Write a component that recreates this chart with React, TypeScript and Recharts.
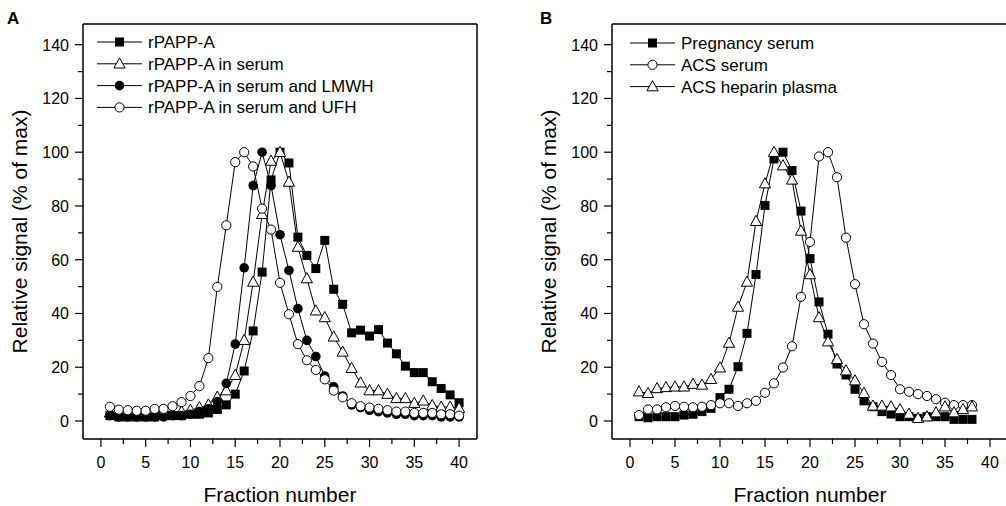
import { Line, LineChart, ReferenceLine, XAxis, YAxis } from 'recharts';

// fraction numbers
const fractionsA = [1, 2, 3, 4, 5, 6, 7, 8, 9, 10, 11, 12, 13, 14, 15, 16, 17, 18, 19, 20, 21, 22, 23, 24, 25, 26, 27, 28, 29, 30, 31, 32, 33, 34, 35, 36, 37, 38, 39, 40];
const fractionsB = [1, 2, 3, 4, 5, 6, 7, 8, 9, 10, 11, 12, 13, 14, 15, 16, 17, 18, 19, 20, 21, 22, 23, 24, 25, 26, 27, 28, 29, 30, 31, 32, 33, 34, 35, 36, 37, 38];

// panel A
const rpappA = [2, 1.5, 1.5, 1.5, 1.5, 1.5, 2, 2, 2, 2.5, 2.5, 3, 4.3, 6, 10, 18.6, 33.5, 55.4, 89.7, 100, 96, 68.4, 61.6, 56.7, 67.2, 49, 43.4, 32.8, 33.8, 31.6, 34, 29, 25, 20.4, 18, 18, 14.6, 12.1, 9.7, 6.8];
const rpappSerum = [3, 2.5, 2.5, 2.5, 2.5, 3, 3, 3, 3.5, 4, 5, 6, 8.9, 11.3, 17, 30, 51.7, 76.9, 96.7, 100, 88.9, 64.7, 53, 41, 38.5, 31.3, 25.7, 19.6, 14.2, 11.3, 11.3, 10, 8.4, 8.4, 6.6, 7.5, 5.8, 5.2, 5.2, 4.7];
const rpappLmwh = [2, 1.5, 1.5, 1.5, 1.5, 1.5, 1.5, 2, 2, 2.5, 3.5, 4.5, 7.2, 14, 28.6, 57, 87.6, 100, 87.6, 69.3, 56, 41.8, 30, 24, 16.7, 12.7, 9.3, 6, 5, 4, 3.5, 3, 2.5, 2.5, 2, 2, 2, 1.5, 1.5, 1.5];
const rpappUfh = [5.3, 4.2, 4, 3.8, 3.8, 4.5, 4.5, 5.5, 7, 9.3, 13, 23.4, 49.9, 72.8, 96.3, 100, 94.7, 79, 71.2, 51.4, 39.7, 28.6, 22.6, 19, 15.5, 11.3, 8.8, 6.6, 5.5, 5, 4.5, 4, 3.5, 3.5, 3, 3, 3, 2.5, 2.5, 2];

// panel B
const pregnancySerum = [1.6, 1.2, 1.6, 1.6, 1.6, 2.2, 2.5, 3.5, 4.7, 8.7, 11.8, 20.2, 32.6, 54.5, 80.2, 97.5, 100, 93.2, 78.1, 60.4, 44.3, 32.3, 21.2, 17.1, 11.8, 7.5, 5.3, 3.5, 2.6, 1.6, 1.6, 1, 1.6, 1.6, 1.6, 0.6, 0.6, 0.6];
const acsSerum = [2.2, 4.3, 4.3, 5.1, 5.6, 5.3, 5.1, 5.3, 5.9, 6.6, 6.6, 5.6, 6.6, 7.5, 10.5, 14, 19.9, 27.8, 46.2, 66.6, 98.4, 100, 90.7, 68.2, 50.9, 36, 28.8, 22, 17.1, 11.8, 10.9, 10, 9.3, 8.1, 6.8, 5.9, 5.9, 5.9];
const acsHeparin = [10.9, 10.3, 12.1, 12.5, 12.7, 12.7, 13.7, 13.4, 15.5, 19.8, 29, 42.4, 51.7, 74.3, 88.3, 100, 95, 89.7, 70.7, 54.5, 38.5, 29.5, 22.9, 18.7, 15, 10.3, 5.6, 5.6, 5.3, 4.3, 2.6, 1, 1.6, 3.1, 5.3, 3.1, 4.3, 5.3];

const xTicks = [0, 2.5, 5, 7.5, 10, 12.5, 15, 17.5, 20, 22.5, 25, 27.5, 30, 32.5, 35, 37.5, 40];
const yTicks = [0, 10, 20, 30, 40, 50, 60, 70, 80, 90, 100, 110, 120, 130, 140];
const X_DOMAIN: [number, number] = [-2, 42];
const Y_DOMAIN: [number, number] = [-6.7, 147.7];

const dataA = fractionsA.map((f, i) => ({
  fraction: f,
  rpappA: rpappA[i],
  serum: rpappSerum[i],
  lmwh: rpappLmwh[i],
  ufh: rpappUfh[i],
}));

const dataB = fractionsB.map((f, i) => ({
  fraction: f,
  pregnancy: pregnancySerum[i],
  acs: acsSerum[i],
  heparin: acsHeparin[i],
}));

type Shape = 'square' | 'triangle' | 'dot' | 'circle';
type Series = { key: string; name: string; shape: Shape };

const seriesA: Series[] = [
  { key: 'rpappA', name: 'rPAPP-A', shape: 'square' },
  { key: 'serum', name: 'rPAPP-A in serum', shape: 'triangle' },
  { key: 'lmwh', name: 'rPAPP-A in serum and LMWH', shape: 'dot' },
  { key: 'ufh', name: 'rPAPP-A in serum and UFH', shape: 'circle' },
];

const seriesB: Series[] = [
  { key: 'pregnancy', name: 'Pregnancy serum', shape: 'square' },
  { key: 'acs', name: 'ACS serum', shape: 'circle' },
  { key: 'heparin', name: 'ACS heparin plasma', shape: 'triangle' },
];

const FONT = '"Liberation Sans", Arial, Helvetica, sans-serif';
const AXIS_W = 1.5;

function Marker({ shape, cx, cy }: { shape: Shape; cx: number; cy: number }) {
  if (shape === 'square') return <rect x={cx - 4.5} y={cy - 4.5} width={9} height={9} fill="#000" />;
  if (shape === 'triangle')
    return (
      <polygon
        points={`${cx},${cy - 6} ${cx - 5.6},${cy + 4.2} ${cx + 5.6},${cy + 4.2}`}
        fill="#fff"
        stroke="#000"
        strokeWidth={1}
      />
    );
  if (shape === 'dot') return <circle cx={cx} cy={cy} r={4.8} fill="#000" />;
  return <circle cx={cx} cy={cy} r={4.6} fill="#fff" stroke="#000" strokeWidth={1} />;
}

const XTick = (props: any) => {
  const { x, y, payload } = props;
  const major = payload.value % 5 === 0;
  return (
    <g>
      <line x1={x} x2={x} y1={y} y2={y + (major ? 8 : 5)} stroke="#000" strokeWidth={1.2} />
      {major && (
        <text x={x} y={y + 29} textAnchor="middle" fontSize={16} fill="#000" fontFamily={FONT}>
          {payload.value}
        </text>
      )}
    </g>
  );
};

const YTick = (props: any) => {
  const { x, y, payload } = props;
  const major = payload.value % 20 === 0;
  return (
    <g>
      <line x1={x} x2={x - (major ? 8 : 5)} y1={y} y2={y} stroke="#000" strokeWidth={1.2} />
      {major && (
        <text x={x - 14} y={y + 6} textAnchor="end" fontSize={16} fill="#000" fontFamily={FONT}>
          {payload.value}
        </text>
      )}
    </g>
  );
};

function LegendBox({ items, left, top }: { items: Series[]; left: number; top: number }) {
  const rowH = 21.8;
  return (
    <svg
      width={330}
      height={items.length * rowH + 4}
      style={{ position: 'absolute', left, top, overflow: 'visible' }}
    >
      {items.map((it, i) => {
        const cy = 11 + i * rowH;
        return (
          <g key={it.name}>
            <line x1={0} x2={45} y1={cy} y2={cy} stroke="#000" />
            <Marker shape={it.shape} cx={22.5} cy={cy} />
            <text x={51} y={cy + 6} fontSize={17} fill="#000" fontFamily={FONT}>
              {it.name}
            </text>
          </g>
        );
      })}
    </svg>
  );
}

function Panel({ data, series, width, plotWidth }: { data: any[]; series: Series[]; width: number; plotWidth: number }) {
  return (
    <LineChart width={width} height={506} data={data} margin={{ top: 24, right: width - 83 - plotWidth, bottom: 3, left: 15 }}>
      <XAxis
        dataKey="fraction"
        type="number"
        domain={X_DOMAIN}
        ticks={xTicks}
        interval={0}
        tick={<XTick />}
        tickLine={false}
        tickSize={0}
        tickMargin={0}
        height={64}
        axisLine={{ stroke: '#000', strokeWidth: AXIS_W }}
        allowDataOverflow
        label={{ value: 'Fraction number', position: 'insideBottom', offset: 1, fontSize: 21, fill: '#000', fontFamily: FONT }}
      />
      <YAxis
        type="number"
        domain={Y_DOMAIN}
        ticks={yTicks}
        interval={0}
        tick={<YTick />}
        tickLine={false}
        tickSize={0}
        tickMargin={0}
        width={68}
        axisLine={{ stroke: '#000', strokeWidth: AXIS_W }}
        allowDataOverflow
        label={{
          value: 'Relative signal (% of max)',
          angle: -90,
          position: 'insideLeft',
          offset: 5,
          fontSize: 21,
          fill: '#000',
          fontFamily: FONT,
          style: { textAnchor: 'middle' },
        }}
      />
      <ReferenceLine y={Y_DOMAIN[1]} stroke="#000" strokeWidth={AXIS_W} />
      <ReferenceLine x={X_DOMAIN[1]} stroke="#000" strokeWidth={AXIS_W} />
      {series.map((s) => (
        <Line
          key={s.key}
          dataKey={s.key}
          name={s.name}
          type="linear"
          stroke="#000"
          strokeWidth={1}
          isAnimationActive={false}
          activeDot={false}
          dot={(p: any) => (
            <g key={`${s.key}-${p.index}`}>
              <Marker shape={s.shape} cx={p.cx} cy={p.cy} />
            </g>
          )}
        />
      ))}
    </LineChart>
  );
}

export default function App() {
  return (
    <div
      style={{
        position: 'absolute',
        left: 0,
        top: 0,
        width: 1006,
        height: 506,
        overflow: 'hidden',
        background: '#fff',
        fontFamily: FONT,
      }}
    >
      <div style={{ position: 'absolute', left: 0, top: 0 }}>
        <Panel data={dataA} series={seriesA} width={500} plotWidth={394} />
      </div>
      <div style={{ position: 'absolute', left: 529, top: 0 }}>
        <Panel data={dataB} series={seriesB} width={501} plotWidth={396} />
      </div>
      <LegendBox items={seriesA} left={97} top={31} />
      <LegendBox items={seriesB} left={630} top={32} />
      <div style={{ position: 'absolute', left: 7, top: 9, fontSize: 17, fontWeight: 'bold', lineHeight: '20px' }}>A</div>
      <div style={{ position: 'absolute', left: 540, top: 9, fontSize: 17, fontWeight: 'bold', lineHeight: '20px' }}>B</div>
    </div>
  );
}
